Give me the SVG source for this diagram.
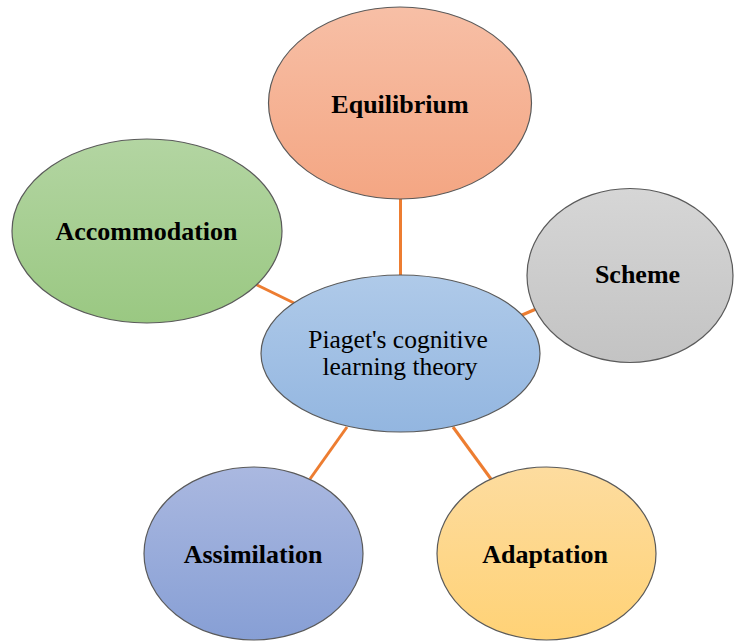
<svg xmlns="http://www.w3.org/2000/svg" width="735" height="641" viewBox="0 0 735 641">
<defs>
<linearGradient id="gEq" x1="0" y1="0" x2="0" y2="1"><stop offset="0" stop-color="#F7BFA6"/><stop offset="1" stop-color="#F4A683"/></linearGradient>
<linearGradient id="gAc" x1="0" y1="0" x2="0" y2="1"><stop offset="0" stop-color="#B3D5A2"/><stop offset="1" stop-color="#9AC882"/></linearGradient>
<linearGradient id="gSc" x1="0" y1="0" x2="0" y2="1"><stop offset="0" stop-color="#D6D6D6"/><stop offset="1" stop-color="#C3C3C3"/></linearGradient>
<linearGradient id="gCe" x1="0" y1="0" x2="0" y2="1"><stop offset="0" stop-color="#AFCAE9"/><stop offset="1" stop-color="#93B6E0"/></linearGradient>
<linearGradient id="gAs" x1="0" y1="0" x2="0" y2="1"><stop offset="0" stop-color="#AAB8E0"/><stop offset="1" stop-color="#879FD5"/></linearGradient>
<linearGradient id="gAd" x1="0" y1="0" x2="0" y2="1"><stop offset="0" stop-color="#FDDC9F"/><stop offset="1" stop-color="#FFD276"/></linearGradient>
</defs>
<style>
.n{stroke:#5a5a5a;stroke-width:1.2}
.c{stroke:#ED7D31;stroke-width:3;fill:none}
.t{font-family:"Liberation Serif","Times New Roman",serif;font-size:26px;font-weight:bold;fill:#000;text-anchor:middle}
.r{font-family:"Liberation Serif","Times New Roman",serif;font-size:25.5px;fill:#000;text-anchor:middle}
</style>
<g id="connectors">
<line class="c" x1="400.5" y1="198" x2="400.5" y2="277"/>
<line class="c" x1="256" y1="284.5" x2="295" y2="303.5"/>
<line class="c" x1="521" y1="315.5" x2="536" y2="309"/>
<line class="c" x1="347" y1="427" x2="310" y2="479"/>
<line class="c" x1="453" y1="427" x2="491" y2="479"/>
</g>
<g id="equilibrium">
<ellipse class="n" cx="400" cy="103" rx="131.5" ry="96" fill="url(#gEq)"/>
<text class="t" x="400" y="113">Equilibrium</text>
</g>
<g id="accommodation">
<ellipse class="n" cx="147" cy="231" rx="135" ry="92" fill="url(#gAc)"/>
<text class="t" x="146.5" y="240">Accommodation</text>
</g>
<g id="scheme">
<ellipse class="n" cx="630" cy="275.5" rx="103" ry="87" fill="url(#gSc)"/>
<text class="t" x="637.5" y="283">Scheme</text>
</g>
<g id="center">
<ellipse class="n" cx="400.5" cy="353.5" rx="139.5" ry="78.5" fill="url(#gCe)"/>
<text class="r" x="398" y="348">Piaget's cognitive</text>
<text class="r" x="400" y="375">learning theory</text>
</g>
<g id="assimilation">
<ellipse class="n" cx="253.5" cy="553.5" rx="109.5" ry="86.5" fill="url(#gAs)"/>
<text class="t" x="253" y="563">Assimilation</text>
</g>
<g id="adaptation">
<ellipse class="n" cx="546.5" cy="553.5" rx="109.5" ry="86.5" fill="url(#gAd)"/>
<text class="t" x="545" y="563">Adaptation</text>
</g>
</svg>
